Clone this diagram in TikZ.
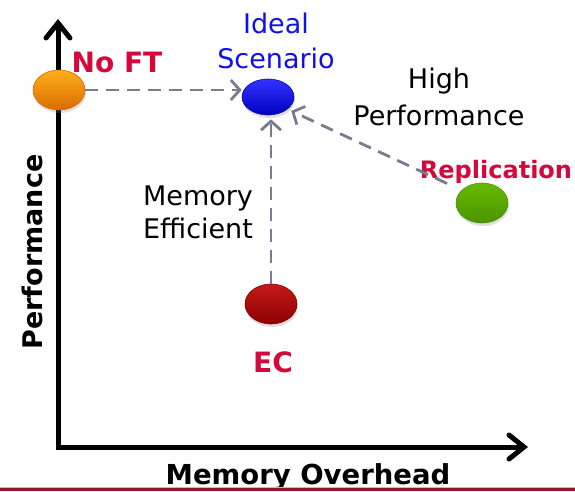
\documentclass[tikz,border=0pt]{standalone}
\usepackage{fontspec}
\setmainfont{DejaVu Sans}
\usetikzlibrary{arrows.meta,shapes.geometric,shadows}

\definecolor{labelred}{RGB}{212,8,58}
\definecolor{labelblue}{RGB}{16,16,236}
\definecolor{dashgray}{RGB}{122,122,144}
\definecolor{rulered}{RGB}{150,20,45}

\begin{document}
\begin{tikzpicture}[x=1pt,y=-1pt,
  orb/.style 2 args={ellipse, minimum width=52pt, minimum height=40pt, inner sep=0pt,
    top color=#1, bottom color=#2, draw=#2, line width=0.6pt,
    drop shadow={opacity=0.25, shadow xshift=1pt, shadow yshift=-3pt}},
  axis/.style={line width=5pt, line join=miter,
    {Straight Barb[length=15pt,width=24pt,line cap=round]}-{Straight Barb[length=15pt,width=24pt,line cap=round]}},
  link/.style={draw=dashgray, line width=2.8pt, dash pattern=on 13pt off 8pt,
    -{Straight Barb[length=9pt,width=20pt]}},
  boldlbl/.style={font=\fontsize{28}{32}\selectfont\bfseries, inner sep=0pt, anchor=base},
  plainlbl/.style={font=\fontsize{27}{35}\selectfont, align=center, inner sep=0pt, anchor=base}]

\useasboundingbox (0,0) rectangle (575,491);

% axes
\coordinate (ytop) at (58,19);
\coordinate (origin) at (58,447);
\coordinate (xend) at (528,447);
\draw[axis] (ytop) -- (origin) -- (xend);

\node[boldlbl, font=\fontsize{27.5}{32}\selectfont\bfseries] (xlabel) at (308,484) {Memory Overhead};
\node[boldlbl, rotate=90, font=\fontsize{27}{32}\selectfont\bfseries] (ylabel) at (42,252) {Performance};

% operating points
\node[orb={orange!70!yellow!90!white}{orange!85!black}] (noft) at (59,90) {};
\node[orb={blue!80!white}{blue!75!black}, minimum height=36pt] (ideal) at (268,97) {};
\node[orb={green!55!black!60!yellow}{green!40!black!70!yellow}] (repl) at (482,203) {};
\node[orb={red!75!black!90!white}{red!55!black}] (ec) at (271,304) {};

% labels
\node[boldlbl, text=labelred] (noftlbl) at (117,72) {No FT};
\node[boldlbl, text=labelred, font=\fontsize{24}{28}\selectfont\bfseries] (repllbl) at (496,178) {Replication};
\node[boldlbl, text=labelred] (eclbl) at (273,372) {EC};
\node[plainlbl, text=labelblue] (ideallbl) at (276,68) {Ideal\\Scenario};
\node[plainlbl, font=\fontsize{27}{37}\selectfont] (hplbl) at (439,125) {High\\Performance};
\node[plainlbl, font=\fontsize{27}{33}\selectfont] (melbl) at (198,238) {Memory\\Efficient};

% trade-off arrows towards the ideal point
\draw[link] (noft.east) -- (noft.east -| ideal.west);
\draw[link, shorten >=4pt] (ec.north) -- (ec.north |- ideal.south);
\draw[link, shorten <=16pt, shorten >=4pt] (repl.148) -- (ideal.-32);

% footer rule
\draw[gray!50, line width=1pt] (0,487.5) -- (575,487.5);
\draw[rulered, line width=2.4pt] (0,489.6) -- (575,489.6);
\end{tikzpicture}
\end{document}
